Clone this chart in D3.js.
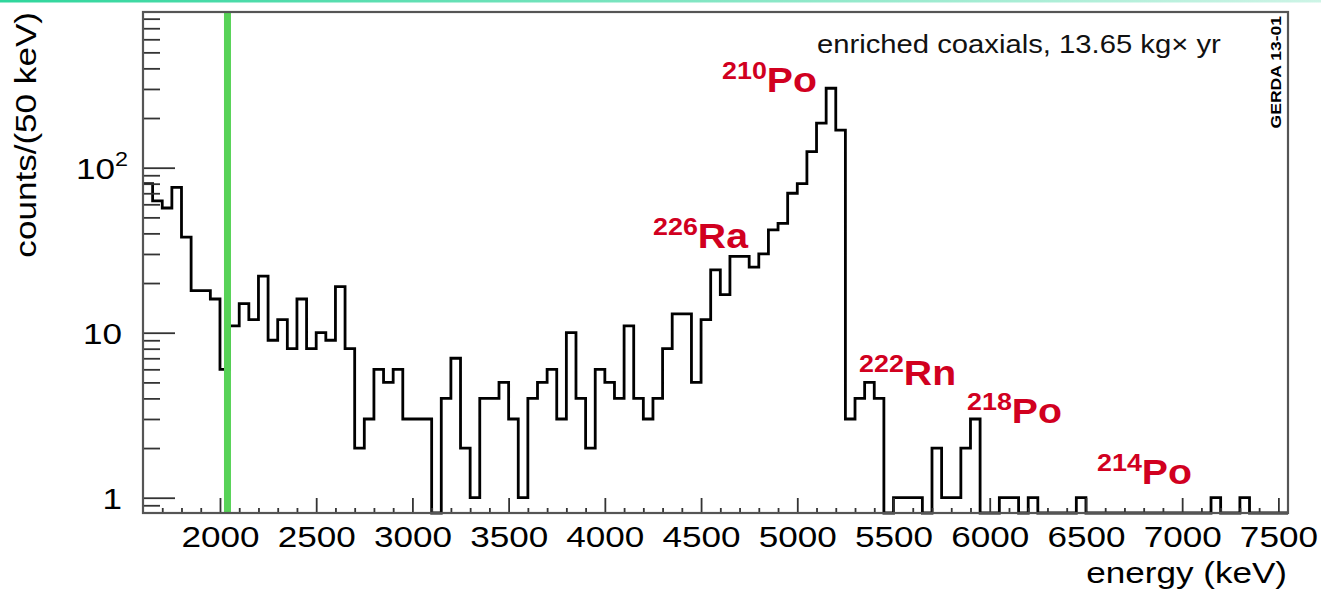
<!DOCTYPE html>
<html>
<head>
<meta charset="utf-8">
<script src="https://cdn.jsdelivr.net/npm/d3@7"></script>
<style>
    body { margin: 0; background: #fff; }
    svg text { font-family: "Liberation Sans", Arial, Helvetica, sans-serif; }
</style>
</head>
<body>
<div id="id_plot"></div>
<script>
// counts per 50 keV bin, first bin starts at 1600 keV
var binLow = 1600, binWidth = 50, binHigh = 7550;
var counts = [
    80, 63, 57, 76, 38, 18, 18, 16, 6, 11, 15, 12,      // 1600 - 2150
    22, 9, 12, 8, 16, 8, 10, 9, 19, 8, 2, 3,            // 2200 - 2750
    6, 5, 6, 3, 3, 3, 0, 4, 7, 2, 1, 4,                 // 2800 - 3350
    4, 5, 3, 1, 4, 5, 6, 3, 10, 4, 2, 6,                // 3400 - 3950
    5, 4, 11, 4, 3, 4, 8, 13, 13, 5, 12, 24,            // 4000 - 4550
    17, 29, 29, 25, 30, 42, 46, 70, 80, 125, 186, 303,  // 4600 - 5150
    169, 3, 4, 5, 4, 0, 1, 1, 1, 0, 2, 1,               // 5200 - 5750
    1, 2, 3, 0, 0, 1, 1, 0, 1, 0, 0, 0,                 // 5800 - 6350
    0, 1, 0, 0, 0, 0, 0, 0, 0, 0, 0, 0,                 // 6400 - 6950
    0, 0, 0, 1, 0, 0, 1, 0, 0, 0, 0                     // 7000 - 7500
];
var qbb = 2039;   // green marker

var xMajor = [2000, 2500, 3000, 3500, 4000, 4500, 5000, 5500, 6000, 6500, 7000, 7500];
var xMinor = [1700, 1800, 1900, 2100, 2200, 2300, 2400, 2600, 2700, 2800, 2900,
    3100, 3200, 3300, 3400, 3600, 3700, 3800, 3900, 4100, 4200, 4300, 4400,
    4600, 4700, 4800, 4900, 5100, 5200, 5300, 5400, 5600, 5700, 5800, 5900,
    6100, 6200, 6300, 6400, 6600, 6700, 6800, 6900, 7100, 7200, 7300, 7400];
var yMajor = [1, 10, 100];
var yMajorBase = ["1", "10", "10"];
var yMajorExp = ["", "", "2"];
var yMinor = [0.9, 2, 3, 4, 5, 6, 7, 8, 9, 20, 30, 40, 50, 60, 70, 80, 90,
    200, 300, 400, 500, 600, 700, 800];

var peakMass = ["210", "226", "222", "218", "214"];
var peakElem = ["Po", "Ra", "Rn", "Po", "Po"];
// label anchors in pixels (left x, baseline y)
var peakPos = [[722, 92], [653, 248], [859, 385], [967, 423], [1097, 484]];

var svgWidth = 1321, svgHeight = 593;
var margin = {top: 12, left: 143, right: 33, bottom: 80};
var width = svgWidth - margin.left - margin.right;
var height = svgHeight - margin.top - margin.bottom;
var stretch = 1.17;
var red = "#d1001f";

var svg = d3.select("#id_plot").append("svg")
    .attr("width", svgWidth)
    .attr("height", svgHeight);

// thin teal band at the top of the slide
var grad = svg.append("defs").append("linearGradient")
    .attr("id", "band").attr("x1", "0%").attr("x2", "100%");
grad.append("stop").attr("offset", "0%").attr("stop-color", "#2fd69c");
grad.append("stop").attr("offset", "100%").attr("stop-color", "#cdf4e6");
svg.append("rect")
    .attr("x", 0).attr("y", 0)
    .attr("width", svgWidth).attr("height", 2.5)
    .attr("fill", "url(#band)");

var x = d3.scaleLinear().domain([binLow, binHigh]).range([margin.left, margin.left + width]);
var y = d3.scaleLog().domain([0.808, 878]).range([margin.top + height, margin.top]);

// histogram outline
var pts = [];
counts.forEach(function (c, i) {
    var e0 = binLow + i * binWidth;
    var v = Math.max(c, y.domain()[0]);
    pts.push([x(e0), y(v)], [x(e0 + binWidth), y(v)]);
});
svg.append("path")
    .attr("d", d3.line()(pts))
    .attr("fill", "none")
    .attr("stroke", "#000")
    .attr("stroke-width", 2.8)
    .attr("stroke-linejoin", "miter");

// Q_bb marker
svg.append("line")
    .attr("x1", x(qbb)).attr("x2", x(qbb))
    .attr("y1", margin.top).attr("y2", margin.top + height)
    .attr("stroke", "#57d257")
    .attr("stroke-width", 7);

// axes (ticks pointing into the frame)
function styleAxis(g) {
    g.select(".domain").remove();
    g.selectAll("line").attr("stroke", "#333").attr("stroke-width", 1.8);
}
svg.append("g")
    .attr("transform", "translate(0," + (margin.top + height) + ")")
    .call(d3.axisBottom(x).tickValues(xMinor).tickSize(-5).tickFormat(""))
    .call(styleAxis);
var xg = svg.append("g")
    .attr("transform", "translate(0," + (margin.top + height) + ")")
    .call(d3.axisBottom(x).tickValues(xMajor).tickSize(-15).tickPadding(13).tickFormat(d3.format("d")))
    .call(styleAxis);
xg.selectAll("text")
    .attr("font-size", 30)
    .attr("fill", "#000")
    .attr("font-family", "Liberation Sans, Arial, sans-serif")
    .attr("transform", "scale(" + stretch + ",1)");

svg.append("g")
    .attr("transform", "translate(" + margin.left + ",0)")
    .call(d3.axisLeft(y).tickValues(yMinor).tickSize(-17).tickFormat(""))
    .call(styleAxis);
svg.append("g")
    .attr("transform", "translate(" + margin.left + ",0)")
    .call(d3.axisLeft(y).tickValues(yMajor).tickSize(-32).tickFormat(""))
    .call(styleAxis);

// y labels with exponent
yMajor.forEach(function (v, i) {
    var t = svg.append("text")
        .attr("transform", "translate(" + (yMajorExp[i] ? 128 : 122) + "," + (y(v) + 11) + ") scale(" + stretch + ",1)")
        .attr("text-anchor", "end")
        .attr("font-size", 30)
        .attr("fill", "#000");
    t.append("tspan").text(yMajorBase[i]);
    if (yMajorExp[i]) {
        t.append("tspan").attr("font-size", 20).attr("dy", -13).text(yMajorExp[i]);
    }
});

// frame
svg.append("rect")
    .attr("x", margin.left).attr("y", margin.top)
    .attr("width", width).attr("height", height)
    .attr("fill", "none")
    .attr("stroke", "#555")
    .attr("stroke-width", 2.2);

// titles
svg.append("text")
    .attr("transform", "translate(36," + margin.top + ") rotate(-90) scale(" + stretch + ",1)")
    .attr("text-anchor", "end")
    .attr("font-size", 30)
    .attr("fill", "#000")
    .text("counts/(50 keV)");

svg.append("text")
    .attr("transform", "translate(1287,583) scale(" + stretch + ",1)")
    .attr("text-anchor", "end")
    .attr("font-size", 30)
    .attr("fill", "#000")
    .text("energy (keV)");

svg.append("text")
    .attr("transform", "translate(817,52.5) scale(" + stretch + ",1)")
    .attr("font-size", 25)
    .attr("fill", "#111")
    .text("enriched coaxials, 13.65 kg\u00d7 yr");

svg.append("text")
    .attr("transform", "translate(1281,16) rotate(-90) scale(" + stretch + ",1)")
    .attr("text-anchor", "end")
    .attr("font-size", 15)
    .attr("font-weight", "bold")
    .attr("fill", "#000")
    .text("GERDA 13-01");

// isotope labels
peakMass.forEach(function (m, i) {
    var t = svg.append("text")
        .attr("transform", "translate(" + peakPos[i][0] + "," + peakPos[i][1] + ") scale(1.12,1)")
        .attr("font-weight", "bold")
        .attr("fill", red);
    t.append("tspan").attr("font-size", 24).attr("dy", -13).text(m);
    t.append("tspan").attr("font-size", 35).attr("dy", 13).text(peakElem[i]);
});
</script>
</body>
</html>
